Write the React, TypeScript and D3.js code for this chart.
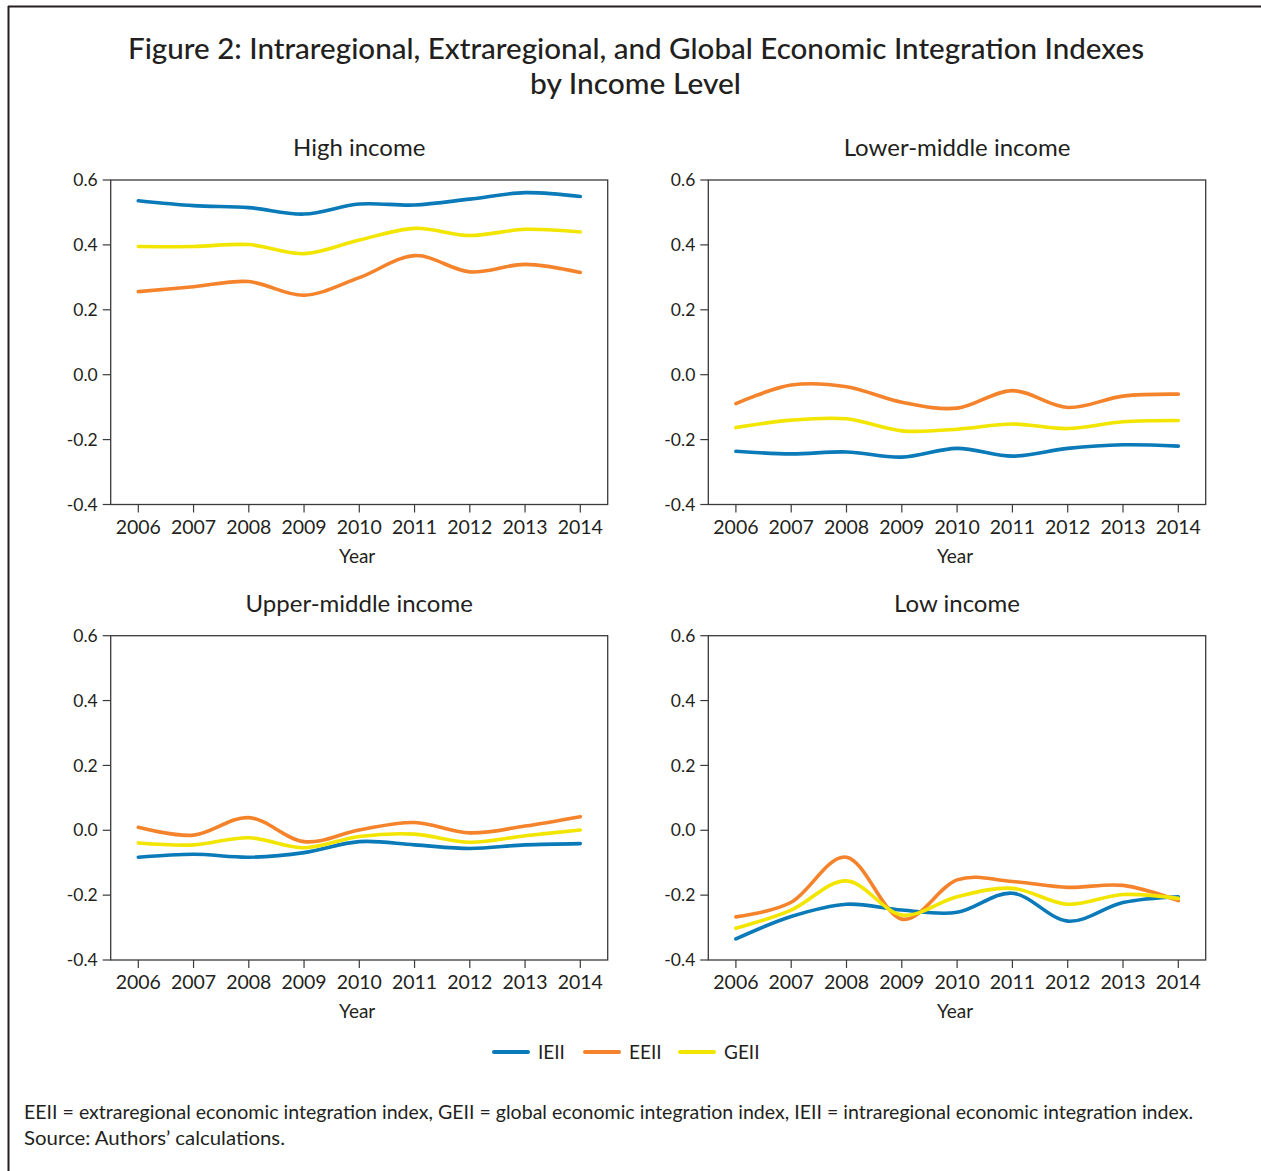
import React from "react";
import * as d3 from "d3";

const years = [2006, 2007, 2008, 2009, 2010, 2011, 2012, 2013, 2014];
const yTicks = [-0.4, -0.2, 0.0, 0.2, 0.4, 0.6];
const seriesNames = ["IEII", "EEII", "GEII"];
const seriesColors = ["#0a7ab8", "#f5832b", "#f2e500"];
const panelTitles = ["High income", "Lower-middle income", "Upper-middle income", "Low income"];

// High income
const highIEII = [0.536, 0.521, 0.515, 0.495, 0.526, 0.523, 0.541, 0.561, 0.549];
const highEEII = [0.256, 0.271, 0.287, 0.245, 0.299, 0.367, 0.317, 0.34, 0.315];
const highGEII = [0.395, 0.395, 0.401, 0.373, 0.415, 0.451, 0.429, 0.448, 0.44];
// Lower-middle income
const lmIEII = [-0.236, -0.244, -0.238, -0.254, -0.227, -0.251, -0.227, -0.216, -0.22];
const lmEEII = [-0.089, -0.032, -0.037, -0.085, -0.103, -0.049, -0.101, -0.066, -0.06];
const lmGEII = [-0.163, -0.14, -0.136, -0.173, -0.168, -0.152, -0.166, -0.145, -0.141];
// Upper-middle income
const umIEII = [-0.083, -0.074, -0.083, -0.069, -0.035, -0.045, -0.056, -0.045, -0.041];
const umEEII = [0.009, -0.015, 0.039, -0.035, 0.001, 0.024, -0.008, 0.013, 0.042];
const umGEII = [-0.039, -0.045, -0.023, -0.054, -0.019, -0.012, -0.037, -0.017, 0.001];
// Low income
const lowIEII = [-0.335, -0.266, -0.228, -0.246, -0.253, -0.194, -0.28, -0.223, -0.205];
const lowEEII = [-0.267, -0.222, -0.083, -0.274, -0.153, -0.158, -0.176, -0.17, -0.217];
const lowGEII = [-0.302, -0.246, -0.156, -0.261, -0.205, -0.179, -0.228, -0.198, -0.21];

const panelData = [
  [highIEII, highEEII, highGEII],
  [lmIEII, lmEEII, lmGEII],
  [umIEII, umEEII, umGEII],
  [lowIEII, lowEEII, lowGEII],
];

const W = 1261;
const H = 1171;
const FONT = "Lato, 'Open Sans', sans-serif";
const TEXT = "#231f20";

const panelBoxes = [
  { x0: 110.7, x1: 607.7, y0: 180, y1: 504.5 },
  { x0: 708.3, x1: 1205.7, y0: 180, y1: 504.5 },
  { x0: 110.7, x1: 607.7, y0: 635.7, y1: 960 },
  { x0: 708.3, x1: 1205.7, y0: 635.7, y1: 960 },
];

function Panel({ idx }: { idx: number }) {
  const b = panelBoxes[idx];
  const x = d3.scaleLinear().domain([years[0], years[years.length - 1]]).range([b.x0 + 27.6, b.x1 - 27.4]);
  const y = d3.scaleLinear().domain([-0.4, 0.6]).range([b.y1, b.y0]);
  const line = d3
    .line<number>()
    .x((_, i) => x(years[i]))
    .y((d) => y(d))
    .curve(d3.curveCatmullRom.alpha(0));
  const cx = (b.x0 + b.x1) / 2;
  return (
    <g>
      <text x={cx} y={b.y0 - 24} textAnchor="middle" fontSize={24} fill={TEXT} fontFamily={FONT}>
        {panelTitles[idx]}
      </text>
      {panelData[idx].map((s, si) => (
        <path key={si} d={line(s) || ""} fill="none" stroke={seriesColors[si]} strokeWidth={3.6} strokeLinecap="round" />
      ))}
      <rect x={b.x0} y={b.y0} width={b.x1 - b.x0} height={b.y1 - b.y0} fill="none" stroke="#3a3a3a" strokeWidth={1.3} />
      {yTicks.map((t) => (
        <g key={t}>
          <line x1={b.x0 - 8} x2={b.x0} y1={y(t)} y2={y(t)} stroke="#3a3a3a" strokeWidth={1.2} />
          <text x={b.x0 - 13} y={y(t)} dy="0.35em" textAnchor="end" fontSize={17.5} fill={TEXT} fontFamily={FONT}>
            {t.toFixed(1).replace("\u2212", "-")}
          </text>
        </g>
      ))}
      {years.map((yr) => (
        <g key={yr}>
          <line x1={x(yr)} x2={x(yr)} y1={b.y1} y2={b.y1 + 8} stroke="#3a3a3a" strokeWidth={1.2} />
          <text x={x(yr)} y={b.y1 + 29} textAnchor="middle" fontSize={19.5} fill={TEXT} fontFamily={FONT}>
            {yr}
          </text>
        </g>
      ))}
      <text x={cx - 2} y={b.y1 + 58} textAnchor="middle" fontSize={19} fill={TEXT} fontFamily={FONT}>
        Year
      </text>
    </g>
  );
}

export default function App() {
  const legendX = [494, 585, 680];
  return (
    <div style={{ position: "absolute", left: 0, top: 0 }}>
      <svg width={W} height={H} viewBox={`0 0 ${W} ${H}`} style={{ display: "block", background: "#fff" }}>
        <rect x={0} y={0} width={W} height={H} fill="#fff" />
        <line x1={8} x2={W} y1={6.5} y2={6.5} stroke="#231f20" strokeWidth={2} />
        <line x1={8.5} x2={8.5} y1={6} y2={H} stroke="#231f20" strokeWidth={2} />
        <text x={128} y={59} textLength={1016} lengthAdjust="spacingAndGlyphs" fontSize={28} fontWeight={500} fill={TEXT} fontFamily={FONT}>
          Figure 2: Intraregional, Extraregional, and Global Economic Integration Indexes
        </text>
        <text x={530} y={94} textLength={211} lengthAdjust="spacingAndGlyphs" fontSize={28} fontWeight={500} fill={TEXT} fontFamily={FONT}>
          by Income Level
        </text>
        {[0, 1, 2, 3].map((i) => (
          <Panel key={i} idx={i} />
        ))}
        {seriesNames.map((n, i) => (
          <g key={n}>
            <line x1={legendX[i]} x2={legendX[i] + 34} y1={1052} y2={1052} stroke={seriesColors[i]} strokeWidth={4} strokeLinecap="round" />
            <text x={legendX[i] + 44} y={1052} dy="0.35em" fontSize={19} fill={TEXT} fontFamily={FONT}>
              {n}
            </text>
          </g>
        ))}
        <text x={24} y={1119} textLength={1169} lengthAdjust="spacingAndGlyphs" fontSize={19} fill={TEXT} fontFamily={FONT}>
          EEII = extraregional economic integration index, GEII = global economic integration index, IEII = intraregional economic integration index.
        </text>
        <text x={24} y={1145} textLength={261} lengthAdjust="spacingAndGlyphs" fontSize={19} fill={TEXT} fontFamily={FONT}>
          Source: Authors’ calculations.
        </text>
      </svg>
    </div>
  );
}
